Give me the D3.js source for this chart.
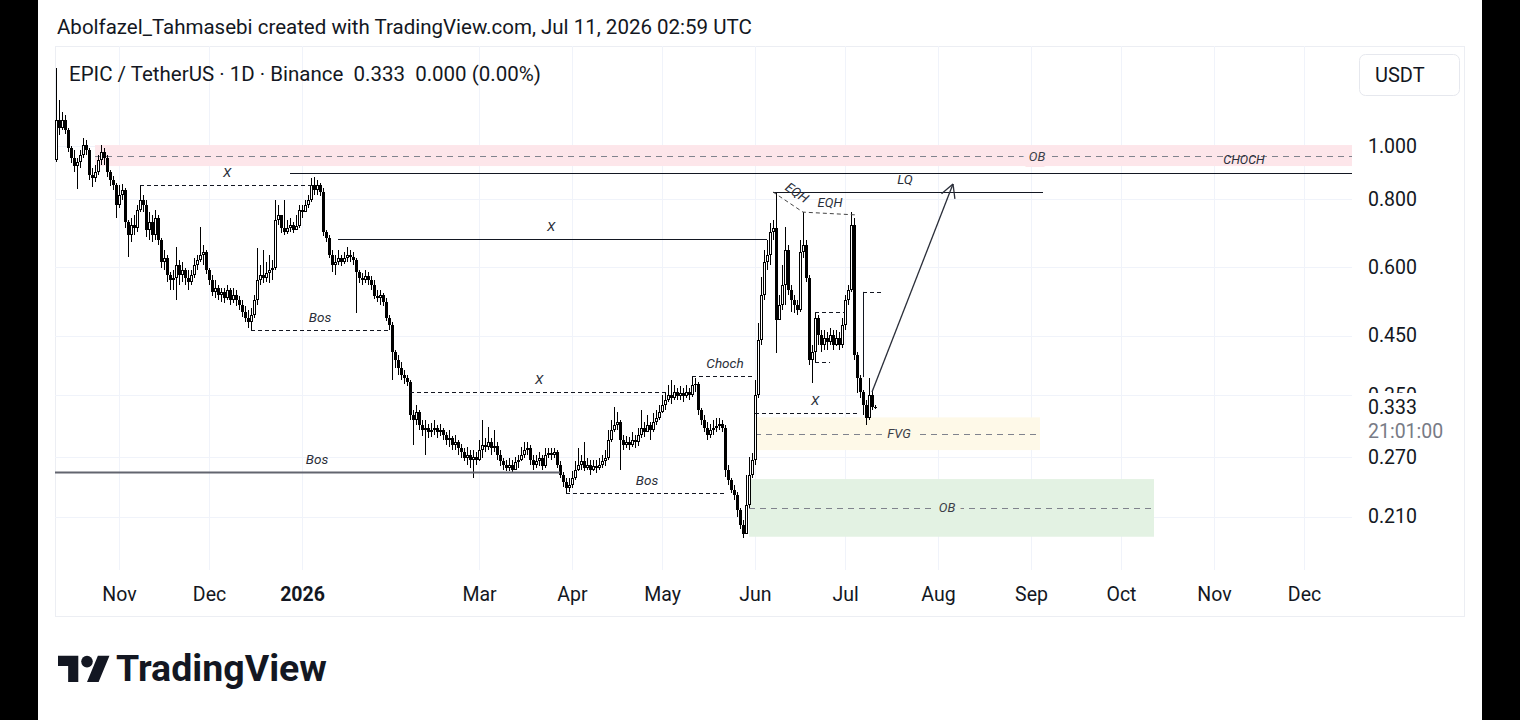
<!DOCTYPE html>
<html>
<head>
<meta charset="utf-8">
<script src="https://cdn.jsdelivr.net/npm/d3@7"></script>
<style>
body { margin: 0; background: #000; }
svg { display: block; }
text { font-family: Roboto, "Noto Sans", sans-serif; }
</style>
</head>
<body>
<svg width="1520" height="720"></svg>
<script>
// daily candles EPIC/USDT, first day 2025-10-11, last 2026-07-11
var firstDay = "2025-10-11";
var firstOpen = 0.943;
var closes = [
 1.116,1.079,1.116,1.070,0.992,0.951,0.919,0.935,0.963,1.004,
 0.983,0.885,0.874,0.896,0.943,0.975,0.951,0.896,0.867,0.849,
 0.780,0.814,0.831,0.726,0.687,0.717,0.708,0.764,0.797,0.780,
 0.702,0.726,0.687,0.738,0.673,0.614,0.624,0.581,0.569,0.574,
 0.606,0.581,0.593,0.574,0.564,0.581,0.606,0.619,0.632,0.640,
 0.593,0.569,0.541,0.550,0.534,0.541,0.527,0.545,0.523,0.534,
 0.523,0.512,0.497,0.485,0.477,0.491,0.523,0.569,0.581,0.574,
 0.586,0.593,0.598,0.732,0.748,0.708,0.696,0.708,0.717,0.702,
 0.714,0.764,0.757,0.780,0.797,0.849,0.831,0.849,0.824,0.696,
 0.679,0.632,0.606,0.614,0.624,0.614,0.624,0.632,0.627,0.619,
 0.588,0.574,0.569,0.578,0.569,0.557,0.532,0.527,0.534,0.519,
 0.485,0.471,0.420,0.406,0.393,0.381,0.376,0.370,0.322,0.315,
 0.326,0.309,0.302,0.305,0.300,0.302,0.305,0.300,0.302,0.296,
 0.290,0.292,0.284,0.288,0.281,0.276,0.269,0.272,0.267,0.270,
 0.267,0.278,0.284,0.282,0.287,0.281,0.283,0.272,0.265,0.261,
 0.258,0.261,0.256,0.264,0.267,0.272,0.278,0.281,0.267,0.261,
 0.265,0.269,0.260,0.272,0.275,0.272,0.276,0.261,0.250,0.243,
 0.237,0.240,0.247,0.256,0.261,0.265,0.258,0.261,0.256,0.260,
 0.258,0.261,0.265,0.269,0.290,0.302,0.309,0.313,0.290,0.284,
 0.288,0.284,0.290,0.287,0.296,0.305,0.300,0.309,0.302,0.313,
 0.318,0.326,0.336,0.343,0.351,0.346,0.355,0.349,0.353,0.349,
 0.355,0.351,0.366,0.367,0.329,0.315,0.305,0.296,0.302,0.305,
 0.308,0.310,0.305,0.256,0.245,0.235,0.230,0.216,0.203,0.195,
 0.221,0.250,0.267,0.351,0.442,0.534,0.614,0.632,0.696,0.708,
 0.481,0.512,0.557,0.645,0.545,0.523,0.512,0.501,0.640,0.659,
 0.574,0.406,0.420,0.485,0.451,0.433,0.446,0.438,0.451,0.433,
 0.446,0.433,0.471,0.523,0.545,0.717,0.415,0.376,0.355,0.336,
 0.318,0.351,0.333,0.333
];
var highs = [
 1.389,1.214,1.154,1.139,1.079,1.000,0.983,0.951,0.983,1.034,
 1.026,0.992,0.912,0.923,0.963,1.004,0.992,0.963,0.904,0.881,
 0.856,0.849,0.852,0.838,0.732,0.738,0.748,0.780,0.849,0.814,
 0.797,0.757,0.748,0.764,0.748,0.679,0.645,0.632,0.588,0.593,
 0.654,0.619,0.614,0.598,0.593,0.593,0.624,0.632,0.711,0.659,
 0.645,0.598,0.581,0.569,0.557,0.550,0.550,0.557,0.550,0.550,
 0.545,0.532,0.523,0.510,0.501,0.506,0.534,0.651,0.606,0.645,
 0.614,0.632,0.619,0.797,0.780,0.748,0.797,0.732,0.738,0.726,
 0.748,0.780,0.780,0.797,0.814,0.874,0.878,0.867,0.856,0.838,
 0.702,0.687,0.645,0.632,0.645,0.632,0.640,0.654,0.645,0.640,
 0.624,0.593,0.586,0.593,0.588,0.578,0.569,0.545,0.545,0.538,
 0.527,0.491,0.477,0.424,0.415,0.403,0.389,0.381,0.373,0.329,
 0.336,0.329,0.315,0.315,0.310,0.312,0.315,0.309,0.310,0.305,
 0.300,0.302,0.295,0.296,0.290,0.285,0.281,0.282,0.278,0.278,
 0.276,0.290,0.315,0.292,0.306,0.292,0.302,0.287,0.278,0.269,
 0.267,0.269,0.267,0.270,0.272,0.282,0.287,0.287,0.284,0.272,
 0.272,0.276,0.272,0.281,0.281,0.281,0.281,0.278,0.265,0.253,
 0.247,0.247,0.254,0.265,0.281,0.272,0.287,0.269,0.267,0.267,
 0.267,0.269,0.272,0.278,0.302,0.315,0.333,0.326,0.315,0.296,
 0.295,0.294,0.300,0.296,0.305,0.329,0.313,0.322,0.313,0.325,
 0.329,0.336,0.351,0.353,0.366,0.373,0.366,0.361,0.364,0.361,
 0.366,0.361,0.378,0.376,0.370,0.332,0.322,0.313,0.310,0.315,
 0.318,0.318,0.315,0.309,0.261,0.247,0.240,0.233,0.218,0.207,
 0.250,0.270,0.275,0.373,0.475,0.576,0.645,0.673,0.723,0.732,
 0.824,0.534,0.606,0.711,0.659,0.557,0.534,0.523,0.673,0.757,
 0.673,0.581,0.433,0.497,0.491,0.461,0.461,0.457,0.465,0.461,
 0.461,0.457,0.485,0.534,0.557,0.757,0.738,0.420,0.381,0.358,
 0.343,0.376,0.358,0.336
];
var lows = [
 0.935,1.047,1.070,1.052,0.975,0.931,0.896,0.834,0.912,0.951,
 0.963,0.867,0.841,0.859,0.885,0.923,0.923,0.878,0.845,0.831,
 0.738,0.770,0.797,0.708,0.627,0.668,0.687,0.696,0.757,0.757,
 0.682,0.673,0.668,0.673,0.659,0.598,0.593,0.564,0.545,0.545,
 0.523,0.557,0.564,0.557,0.545,0.557,0.574,0.593,0.614,0.606,
 0.583,0.557,0.532,0.527,0.523,0.519,0.516,0.523,0.512,0.516,
 0.510,0.501,0.487,0.477,0.465,0.461,0.485,0.512,0.557,0.562,
 0.564,0.562,0.569,0.593,0.717,0.693,0.687,0.690,0.696,0.693,
 0.702,0.708,0.738,0.757,0.770,0.790,0.814,0.814,0.810,0.685,
 0.668,0.624,0.588,0.581,0.606,0.603,0.609,0.614,0.614,0.606,
 0.495,0.562,0.557,0.562,0.557,0.545,0.525,0.519,0.512,0.510,
 0.479,0.461,0.373,0.393,0.381,0.373,0.367,0.364,0.315,0.284,
 0.309,0.302,0.295,0.272,0.292,0.294,0.296,0.292,0.295,0.290,
 0.284,0.282,0.278,0.278,0.272,0.269,0.265,0.261,0.258,0.247,
 0.261,0.265,0.269,0.276,0.278,0.272,0.276,0.267,0.260,0.256,
 0.254,0.254,0.252,0.256,0.258,0.265,0.269,0.272,0.261,0.256,
 0.258,0.260,0.256,0.258,0.269,0.267,0.269,0.258,0.247,0.238,
 0.232,0.233,0.237,0.245,0.254,0.256,0.254,0.256,0.250,0.254,
 0.252,0.256,0.258,0.260,0.267,0.288,0.300,0.302,0.256,0.278,
 0.281,0.278,0.282,0.281,0.283,0.292,0.294,0.300,0.290,0.300,
 0.309,0.315,0.325,0.329,0.340,0.337,0.343,0.343,0.343,0.340,
 0.346,0.343,0.348,0.355,0.322,0.309,0.300,0.290,0.292,0.296,
 0.300,0.302,0.300,0.248,0.240,0.232,0.225,0.210,0.199,0.192,
 0.199,0.218,0.247,0.261,0.346,0.433,0.523,0.593,0.606,0.673,
 0.418,0.485,0.501,0.512,0.534,0.497,0.495,0.491,0.497,0.624,
 0.564,0.398,0.369,0.403,0.433,0.420,0.424,0.424,0.433,0.424,
 0.431,0.424,0.427,0.461,0.512,0.541,0.406,0.353,0.346,0.322,
 0.309,0.315,0.329,0.331
];

var priceTicks = [1.000, 0.800, 0.600, 0.450, 0.350, 0.270, 0.210];
var monthDays = ["2025-11-01","2025-12-01","2026-01-01","2026-03-01","2026-04-01","2026-05-01",
                 "2026-06-01","2026-07-01","2026-08-01","2026-09-01","2026-10-01","2026-11-01","2026-12-01"];
var monthLabels = ["Nov","Dec","2026","Mar","Apr","May","Jun","Jul","Aug","Sep","Oct","Nov","Dec"];

// drawings on the chart
var zones = [
  {from:"2025-10-24", to:"2026-12-31", top:1.004, bottom:0.919, mid:0.959, label:"OB",  labelAt:"2026-09-03", fill:"#fde6ea"},
  {from:"2026-05-30", to:"2026-10-12", top:0.246, bottom:0.193, mid:0.218, label:"OB",  labelAt:"2026-08-04", fill:"#e3f2e3"},
  {from:"2026-06-01", to:"2026-09-04", top:0.319, bottom:0.278, mid:0.298, label:"FVG", labelAt:"2026-07-19", fill:"#fef9e8"}
];
var levels = [
  {from:"2025-12-28", to:"2026-12-31", price:0.892, dash:false},
  {from:"2025-11-08", to:"2026-01-05", price:0.849, dash:true,  label:"X",     labelAt:"2025-12-07"},
  {from:"2026-01-13", to:"2026-06-05", price:0.676, dash:false, label:"X",     labelAt:"2026-03-25"},
  {from:"2025-12-15", to:"2026-01-30", price:0.461, dash:true,  label:"Bos",   labelAt:"2026-01-07"},
  {from:"2026-02-06", to:"2026-05-03", price:0.355, dash:true,  label:"X",     labelAt:"2026-03-21"},
  {from:"2026-05-11", to:"2026-06-01", price:0.379, dash:true,  label:"Choch", labelAt:"2026-05-22"},
  {from:"2025-10-01", to:"2026-03-28", price:0.253, dash:false, gray:true, label:"Bos", labelAt:"2026-01-06"},
  {from:"2026-03-30", to:"2026-05-22", price:0.232, dash:true,  label:"Bos",   labelAt:"2026-04-26"},
  {from:"2026-06-01", to:"2026-07-06", price:0.325, dash:true,  label:"X",     labelAt:"2026-06-21"},
  {from:"2026-06-21", to:"2026-07-01", price:0.497, dash:true},
  {from:"2026-06-21", to:"2026-06-26", price:0.403, dash:true},
  {from:"2026-07-07", to:"2026-07-14", price:0.541, dash:true},
  {from:"2026-06-07", to:"2026-09-05", price:0.824, dash:false, label:"LQ",    labelAt:"2026-07-21"}
];
var eqhPath = [["2026-06-07",0.824],["2026-06-17",0.757],["2026-07-05",0.748]];
var eqhLabels = [{text:"EQH", at:"2026-06-15", price:0.822, rotate:35}, {text:"EQH", at:"2026-06-26", price:0.787, rotate:0}];
var bracket = {at:"2026-07-07", from:0.541, to:0.378};
var arrow = {from:["2026-07-10",0.355], to:["2026-08-06",0.852]};
var chochLabel = {text:"CHOCH", at:"2026-11-11", price:0.943};

var svg = d3.select("svg");
var parse = d3.utcParse("%Y-%m-%d");
var DAY = 864e5;

var plot = {left:55, right:1352, top:46, bottom:570};
var x = d3.scaleUtc()
    .domain([Date.UTC(2025, 9, 10, 16), Date.UTC(2026, 11, 17)])
    .range([plot.left, plot.right]);
var y = d3.scaleLog()
    .domain([0.16777, 1.5236])
    .range([plot.bottom, plot.top]);

var start = parse(firstDay);
var bars = closes.map(function(c, i) {
  var o = i ? closes[i-1] : firstOpen;
  return {date: new Date(+start + i*DAY), open:o, close:c,
          high: Math.max(highs[i], o, c), low: Math.min(lows[i], o, c)};
});

// page background and frame
svg.append("rect").attr("x",38).attr("y",0).attr("width",1444).attr("height",720).attr("fill","#fff");
svg.append("rect").attr("x",55.5).attr("y",46.5).attr("width",1409).attr("height",570)
  .attr("fill","none").attr("stroke","#eceef3");

svg.append("text").attr("x",57).attr("y",27).attr("dy","0.35em")
  .attr("font-size",20.5).attr("fill","#131722")
  .text("Abolfazel_Tahmasebi created with TradingView.com, Jul 11, 2026 02:59 UTC");

var defs = svg.append("defs");
defs.append("clipPath").attr("id","clip").append("rect")
  .attr("x",plot.left).attr("y",plot.top).attr("width",plot.right-plot.left).attr("height",plot.bottom-plot.top);
// the last price label hides most of the 0.350 tick label
var axisClip = defs.append("clipPath").attr("id","axisclip");
axisClip.append("rect").attr("x",plot.right).attr("y",0).attr("width",130).attr("height",393);
axisClip.append("rect").attr("x",plot.right).attr("y",443).attr("width",130).attr("height",200);

var g = svg.append("g").attr("clip-path","url(#clip)");

// grid
g.selectAll(".vgrid").data(monthDays).enter().append("line")
  .attr("x1", function(d){ return Math.round(x(parse(d)))+0.5; })
  .attr("x2", function(d){ return Math.round(x(parse(d)))+0.5; })
  .attr("y1", plot.top).attr("y2", plot.bottom)
  .attr("stroke","#f0f3fa");
g.selectAll(".hgrid").data(priceTicks).enter().append("line")
  .attr("x1", plot.left).attr("x2", plot.right)
  .attr("y1", function(d){ return Math.round(y(d))+0.5; })
  .attr("y2", function(d){ return Math.round(y(d))+0.5; })
  .attr("stroke","#f0f3fa");

// zones
zones.forEach(function(z) {
  g.append("rect")
    .attr("x", x(parse(z.from))).attr("width", x(parse(z.to)) - x(parse(z.from)))
    .attr("y", y(z.top)).attr("height", y(z.bottom) - y(z.top))
    .attr("fill", z.fill);
  g.append("line")
    .attr("x1", x(parse(z.from))).attr("x2", x(parse(z.to)))
    .attr("y1", Math.round(y(z.mid))+0.5).attr("y2", Math.round(y(z.mid))+0.5)
    .attr("stroke","#80838d").attr("stroke-dasharray","6 5");
  g.append("text")
    .attr("x", x(parse(z.labelAt))).attr("y", y(z.mid)).attr("dy","0.35em")
    .attr("text-anchor","middle").attr("font-size",13).attr("font-style","italic")
    .attr("fill","#3b3e47").attr("stroke", z.fill).attr("stroke-width",12)
    .attr("paint-order","stroke").text(z.label);
});

// candles
g.selectAll(".wick").data(bars).enter().append("line")
  .attr("x1", function(d){ return Math.round(x(d.date))+0.5; })
  .attr("x2", function(d){ return Math.round(x(d.date))+0.5; })
  .attr("y1", function(d){ return Math.round(y(d.high)); })
  .attr("y2", function(d){ return Math.round(y(d.low)); })
  .attr("stroke","#000");

g.selectAll(".body").data(bars).enter().append("rect")
  .each(function(d) {
    var xc = Math.round(x(d.date));
    var t = Math.round(y(Math.max(d.open, d.close)));
    var b = Math.round(y(Math.min(d.open, d.close)));
    var h = Math.max(1, b - t);
    var r = d3.select(this);
    if (d.close >= d.open && h > 2) {
      r.attr("x", xc-0.5).attr("y", t+0.5).attr("width", 2).attr("height", h-1)
       .attr("fill","#fff").attr("stroke","#000");
    } else {
      r.attr("x", xc-1).attr("y", t).attr("width", 3).attr("height", h).attr("fill","#000");
    }
  });

// levels
levels.forEach(function(l) {
  var yy = Math.round(y(l.price)) + 0.5;
  g.append("line")
    .attr("x1", x(parse(l.from))).attr("x2", x(parse(l.to)))
    .attr("y1", yy).attr("y2", yy)
    .attr("stroke", l.gray ? "#62656f" : "#131722")
    .attr("stroke-width", l.gray ? 2 : 1)
    .attr("stroke-dasharray", l.dash ? "4 3" : null);
  if (l.label) {
    g.append("text")
      .attr("x", x(parse(l.labelAt))).attr("y", y(l.price) - 13).attr("dy","0.35em")
      .attr("text-anchor","middle").attr("font-size",13.5).attr("font-style","italic")
      .attr("fill","#2a2e39").text(l.label);
  }
});

// EQH
g.append("path")
  .attr("d", d3.line().x(function(d){ return x(parse(d[0])); }).y(function(d){ return y(d[1]); })(eqhPath))
  .attr("fill","none").attr("stroke","#444").attr("stroke-dasharray","4 3");
eqhLabels.forEach(function(e) {
  var px = x(parse(e.at)), py = y(e.price);
  g.append("text").attr("transform","translate(" + px + "," + py + ") rotate(" + e.rotate + ")")
    .attr("text-anchor","middle").attr("dy","0.35em")
    .attr("font-size",13).attr("font-style","italic").attr("fill","#2a2e39").text(e.text);
});

g.append("line")
  .attr("x1", Math.round(x(parse(bracket.at)))+0.5).attr("x2", Math.round(x(parse(bracket.at)))+0.5)
  .attr("y1", y(bracket.from)).attr("y2", y(bracket.to)).attr("stroke","#131722");

g.append("text")
  .attr("x", x(parse(chochLabel.at))).attr("y", y(chochLabel.price)).attr("dy","0.35em")
  .attr("text-anchor","middle").attr("font-size",12.5).attr("font-style","italic")
  .attr("fill","#2a2e39").text(chochLabel.text);

// arrow
var ax1 = x(parse(arrow.from[0])), ay1 = y(arrow.from[1]);
var ax2 = x(parse(arrow.to[0])), ay2 = y(arrow.to[1]);
g.append("line").attr("x1",ax1).attr("y1",ay1).attr("x2",ax2).attr("y2",ay2)
  .attr("stroke","#2a2e39").attr("stroke-width",1.3);
var ang = Math.atan2(ay2-ay1, ax2-ax1);
[ang + Math.PI - 0.5, ang + Math.PI + 0.5].forEach(function(a) {
  g.append("line").attr("x1",ax2).attr("y1",ay2)
    .attr("x2", ax2 + 15*Math.cos(a)).attr("y2", ay2 + 15*Math.sin(a))
    .attr("stroke","#2a2e39").attr("stroke-width",1.3);
});

// price axis
var yAxis = svg.append("g").attr("clip-path","url(#axisclip)")
  .append("g").attr("transform","translate(" + plot.right + ",0)")
  .call(d3.axisRight(y).tickValues(priceTicks).tickFormat(d3.format(".3f")).tickSize(0).tickPadding(16));
yAxis.select(".domain").remove();
yAxis.selectAll("text").attr("font-size",19.5).attr("fill","#131722")
  .attr("font-family","Roboto, sans-serif");

// last price label
var last = closes[closes.length-1];
svg.append("text").attr("x",1368).attr("y",y(last)).attr("dy","0.35em")
  .attr("font-size",19.5).attr("fill","#131722").text(d3.format(".3f")(last));
svg.append("text").attr("x",1368).attr("y",y(last) + 24).attr("dy","0.35em")
  .attr("font-size",19.5).attr("fill","#787b86").text("21:01:00");

// time axis
var xAxis = svg.append("g").attr("transform","translate(0," + plot.bottom + ")")
  .call(d3.axisBottom(x).tickValues(monthDays.map(parse))
    .tickFormat(function(d, i){ return monthLabels[i]; }).tickSize(0));
xAxis.select(".domain").remove();
xAxis.selectAll("text").attr("y",24).attr("dy","0.35em").attr("font-size",19.5)
  .attr("fill","#131722").attr("font-family","Roboto, sans-serif")
  .attr("font-weight", function(d, i){ return monthLabels[i] === "2026" ? 700 : 400; });

// legend
svg.append("text").attr("x",69).attr("y",74).attr("dy","0.35em")
  .attr("font-size",20.5).attr("fill","#131722").style("white-space","pre")
  .text("EPIC / TetherUS \u00b7 1D \u00b7 Binance  0.333  0.000 (0.00%)");

// currency button
svg.append("rect").attr("x",1359.5).attr("y",54.5).attr("width",100).attr("height",41).attr("rx",6)
  .attr("fill","#fff").attr("stroke","#e6e8ee");
svg.append("text").attr("x",1375).attr("y",75).attr("dy","0.35em")
  .attr("font-size",20).attr("fill","#131722").text("USDT");

// TradingView logo
var logo = svg.append("g").attr("transform","translate(58,650) scale(1.45)").attr("fill","#131722");
logo.append("path").attr("d","M14 22H7V11H0V4h14v18zM28 22h-8l7.5-18h8L28 22z");
logo.append("circle").attr("cx",20).attr("cy",8).attr("r",4);
svg.append("text").attr("x",116).attr("y",681)
  .attr("font-family","Inter, Roboto, sans-serif").attr("font-weight",700)
  .attr("font-size",37.5).attr("fill","#131722").text("TradingView");
</script>
</body>
</html>
